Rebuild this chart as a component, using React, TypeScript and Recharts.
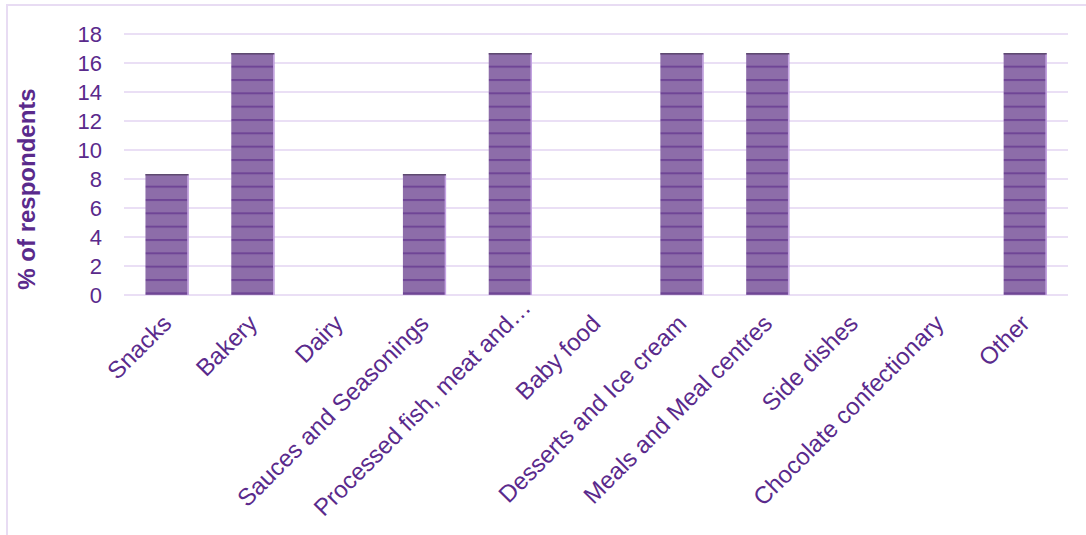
import React from 'react';
import { BarChart, Bar, XAxis, YAxis, CartesianGrid } from 'recharts';

const categories = [
  'Snacks',
  'Bakery',
  'Dairy',
  'Sauces and Seasonings',
  'Processed fish, meat and…',
  'Baby food',
  'Desserts and Ice cream',
  'Meals and Meal centres',
  'Side dishes',
  'Chocolate confectionary',
  'Other',
];
const values = [8.33, 16.67, 0, 8.33, 16.67, 0, 16.67, 16.67, 0, 0, 16.67];
const yTicks = [0, 2, 4, 6, 8, 10, 12, 14, 16, 18];
const yLabel = '% of respondents';

const data = categories.map((name, i) => ({ name, value: values[i] }));

const TEXT = '#5A2A8C';
const FONT = '"Liberation Sans", Arial, sans-serif';

const XTick = (props: any) => {
  const { x, y, payload } = props;
  const label: string = String(payload.value);
  // truncated labels are pushed further along their direction in the original
  const shift = label.endsWith('…') ? 16 : 0;
  const tx = x + 6 + shift;
  const ty = y + 22 - shift;
  return (
    <text
      x={tx}
      y={ty}
      transform={`rotate(-45 ${tx} ${ty})`}
      textAnchor="end"
      fill={TEXT}
      fontSize={24}
      fontFamily={FONT}
    >
      {label}
    </text>
  );
};

const YLabel = () => (
  <text
    x={26}
    y={189}
    transform="rotate(-90 26 189)"
    textAnchor="middle"
    dominantBaseline="central"
    fill={TEXT}
    fontSize={24}
    fontWeight="bold"
    fontFamily={FONT}
  >
    {yLabel}
  </text>
);

const BarShape = (props: any) => {
  const { x, y, width, height } = props;
  if (!height || height <= 0) return null;
  return (
    <g>
      <rect x={x} y={y} width={width} height={height} fill="url(#stripes)" />
      <line x1={x + width - 0.5} x2={x + width - 0.5} y1={y} y2={y + height} stroke="#C4A4E2" strokeWidth={1.5} />
      <line x1={x} x2={x + width} y1={y + 0.5} y2={y + 0.5} stroke="#5E4A70" strokeWidth={1.5} />
    </g>
  );
};

export default function App() {
  return (
    <div style={{ position: 'absolute', left: 0, top: 0, width: 1086, height: 535, overflow: 'hidden', background: '#fff' }}>
      <div
        style={{
          position: 'absolute',
          left: 6,
          top: 4,
          width: 1200,
          height: 600,
          borderLeft: '2px solid #E8DCF3',
          borderTop: '2px solid #E8DCF3',
        }}
      />
      <div style={{ position: 'absolute', left: 0, top: 0 }}>
        <BarChart
          width={1086}
          height={535}
          data={data}
          margin={{ top: 34, right: 18, left: 0, bottom: 0 }}
          barCategoryGap="25%"
        >
          <defs>
            <pattern id="stripes" patternUnits="userSpaceOnUse" width={20} height={13.333} y={-1}>
              <rect x={0} y={0} width={20} height={13.333} fill="#8D6DA9" />
              <rect x={0} y={0} width={20} height={2} fill="#6F4596" />
            </pattern>
          </defs>
          <CartesianGrid vertical={false} stroke="#EADFF5" strokeWidth={2} />
          <XAxis
            dataKey="name"
            height={240}
            interval={0}
            tickLine={false}
            axisLine={false}
            tick={<XTick />}
          />
          <YAxis
            width={124}
            domain={[0, 18]}
            ticks={yTicks}
            interval={0}
            tickLine={false}
            axisLine={false}
            tickMargin={16}
            tick={{ fill: TEXT, fontSize: 22, fontFamily: FONT }}
            label={<YLabel />}
          />
          <Bar dataKey="value" isAnimationActive={false} shape={<BarShape />} />
        </BarChart>
      </div>
    </div>
  );
}
